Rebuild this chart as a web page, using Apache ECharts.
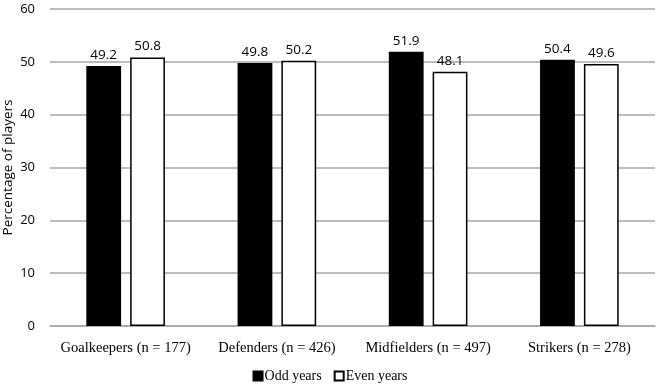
<!DOCTYPE html>
<html>
<head>
<meta charset="utf-8">
<script src="https://cdn.jsdelivr.net/npm/echarts@6/dist/echarts.min.js"></script>
<style>
  html, body { margin: 0; padding: 0; background: #fff; }
  #chart { width: 660px; height: 385px; }
</style>
</head>
<body>
<div id="chart"></div>
<script>
const categories = ['Goalkeepers (n = 177)', 'Defenders (n = 426)', 'Midfielders (n = 497)', 'Strikers (n = 278)']
const oddYears = [49.2, 49.8, 51.9, 50.4]
const evenYears = [50.8, 50.2, 48.1, 49.6]

const serif = '"Liberation Serif", "Times New Roman", serif'
const sans = '"Open Sans", "Noto Sans", sans-serif'
const chart = echarts.init(document.getElementById('chart'))

chart.setOption({
  animation: false,
  grid: {left: 50, right: 5, top: 9, bottom: 59, outerBoundsMode: 'none'},
  legend: {
    left: 'center',
    top: 364,
    itemWidth: 9,
    itemHeight: 9,
    itemGap: 12,
    textStyle: {fontFamily: serif, fontSize: 14, color: '#000', padding: [0, 0, 0, -3]},
    data: [
      {name: 'Odd years', icon: 'rect'},
      {name: 'Even years', icon: 'rect'}
    ]
  },
  xAxis: {
    type: 'category',
    data: categories,
    axisLine: {lineStyle: {color: '#a6a6a6', width: 1.5}},
    axisTick: {show: false},
    axisLabel: {interval: 0, color: '#000', fontSize: 14.5, fontFamily: serif, margin: 15}
  },
  yAxis: {
    type: 'value',
    min: 0,
    max: 60,
    interval: 10,
    name: 'Percentage of players',
    nameLocation: 'middle',
    nameGap: 35,
    nameMoveOverlap: false,
    nameTextStyle: {color: '#000', fontSize: 13.5, fontFamily: sans},
    axisLine: {show: false},
    axisTick: {show: false},
    axisLabel: {color: '#000', fontSize: 13, fontFamily: sans, margin: 15},
    splitLine: {lineStyle: {color: '#a6a6a6', width: 1.5}}
  },
  series: [
    {
      name: 'Odd years',
      type: 'bar',
      data: oddYears,
      barWidth: '23%',
      barGap: '26%',
      itemStyle: {color: '#000', borderColor: '#000', borderWidth: 1.5},
      label: {show: true, position: 'top', color: '#000', fontSize: 13.5, fontFamily: sans, distance: 4}
    },
    {
      name: 'Even years',
      type: 'bar',
      data: evenYears,
      barWidth: '23%',
      itemStyle: {color: '#fff', borderColor: '#000', borderWidth: 1.5},
      label: {show: true, position: 'top', color: '#000', fontSize: 13.5, fontFamily: sans, distance: 4}
    }
  ]
})
</script>
</body>
</html>
